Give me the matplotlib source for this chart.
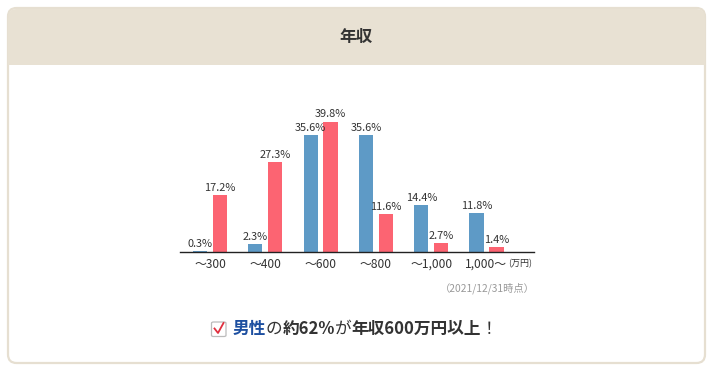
import matplotlib
matplotlib.use("Agg")
import matplotlib.pyplot as plt
import numpy as np
from matplotlib.patches import FancyBboxPatch, Rectangle

plt.rcParams['font.family'] = ['Noto Sans CJK JP', 'DejaVu Sans']

# data
categories = ["〜300", "〜400", "〜600", "〜800", "〜1,000", "1,000〜"]
male = [0.3, 2.3, 35.6, 35.6, 14.4, 11.8]
female = [17.2, 27.3, 39.8, 11.6, 2.7, 1.4]
title = "年収"
unit = "(万円)"
note = "（2021/12/31時点）"

W, H = 713, 373
BLUE = "#5e9ac6"
RED = "#fc6472"
DARK = "#333333"

fig = plt.figure(figsize=(W / 100, H / 100), dpi=100)
fig.patch.set_facecolor("white")

def fx(px):
    return px / W

def fy(py):
    return 1 - py / H

# card with header band
card = FancyBboxPatch((fx(8), fy(363)), fx(697), 355 / H,
                      boxstyle="round,pad=0,rounding_size=0.012",
                      transform=fig.transFigure, facecolor="white",
                      edgecolor="#e6dfd1", lw=1.6, mutation_aspect=W / H)
fig.patches.append(card)
head = FancyBboxPatch((fx(8), fy(65)), fx(697), 56 / H,
                      boxstyle="round,pad=0,rounding_size=0.012",
                      transform=fig.transFigure, facecolor="#e8e1d3",
                      edgecolor="none", mutation_aspect=W / H)
fig.patches.append(head)
fig.patches.append(Rectangle((fx(8), fy(65)), fx(697), 20 / H,
                             transform=fig.transFigure, facecolor="#e8e1d3",
                             edgecolor="none"))
fig.text(fx(356.5), fy(37), title, ha="center", va="center",
         fontsize=12, fontweight="bold", color=DARK)

# bar chart
ax = fig.add_axes([fx(180), fy(251.7), fx(354), 147.2 / H])
ax.set_zorder(5)
x = np.arange(len(categories))
w = 0.258
off = 0.18
b1 = ax.bar(x - off, male, w, color=BLUE)
b2 = ax.bar(x + off, female, w, color=RED)
for bars, vals in ((b1, male), (b2, female)):
    for r, v in zip(bars, vals):
        ax.annotate(f"{v}%", (r.get_x() + r.get_width() / 2, v),
                    xytext=(0, 1.5), textcoords="offset points",
                    ha="center", va="bottom", fontsize=7.9, color=DARK)
ax.set_xlim(-0.5425, 5.859)
ax.set_ylim(0, 45)
ax.set_xticks(x)
ax.set_xticklabels(categories, fontsize=8.6, color=DARK)
ax.tick_params(axis="x", length=0, pad=4.5)
ax.set_yticks([])
for s in ("top", "right", "left"):
    ax.spines[s].set_visible(False)
ax.spines["bottom"].set_color("#222222")
ax.spines["bottom"].set_linewidth(1)
ax.patch.set_alpha(0)

fig.text(fx(508.5), fy(264), unit, ha="left", va="center", fontsize=6.5, color=DARK)
fig.text(fx(535), fy(288), note, ha="right", va="center", fontsize=7.4, color="#999999")

# checkbox
box = FancyBboxPatch((fx(211.5), fy(336.5)), fx(14.5), 14.5 / H,
                     boxstyle="round,pad=0,rounding_size=0.003",
                     transform=fig.transFigure, facecolor="white",
                     edgecolor="#bbbbbb", lw=0.9)
fig.patches.append(box)
fig.lines.append(plt.Line2D([fx(214.5), fx(218), fx(223.5)],
                            [fy(328.5), fy(333), fy(323)],
                            transform=fig.transFigure, color="#e0303f", lw=1.3))

# summary sentence built from pieces
pieces = [("男性", "#1d4fa0", "bold"), ("の", DARK, "normal"),
          ("約62%", DARK, "bold"), ("が", DARK, "normal"),
          ("年収600万円以上", DARK, "bold"), ("！", DARK, "normal")]
fig.canvas.draw()
renderer = fig.canvas.get_renderer()
xpos = fx(232.5)
for txt, col, wt in pieces:
    t = fig.text(xpos, fy(329), txt, ha="left", va="center",
                 fontsize=12, fontweight=wt, color=col)
    bb = t.get_window_extent(renderer)
    xpos += bb.width / W

fig.savefig("out.png", dpi=100)
